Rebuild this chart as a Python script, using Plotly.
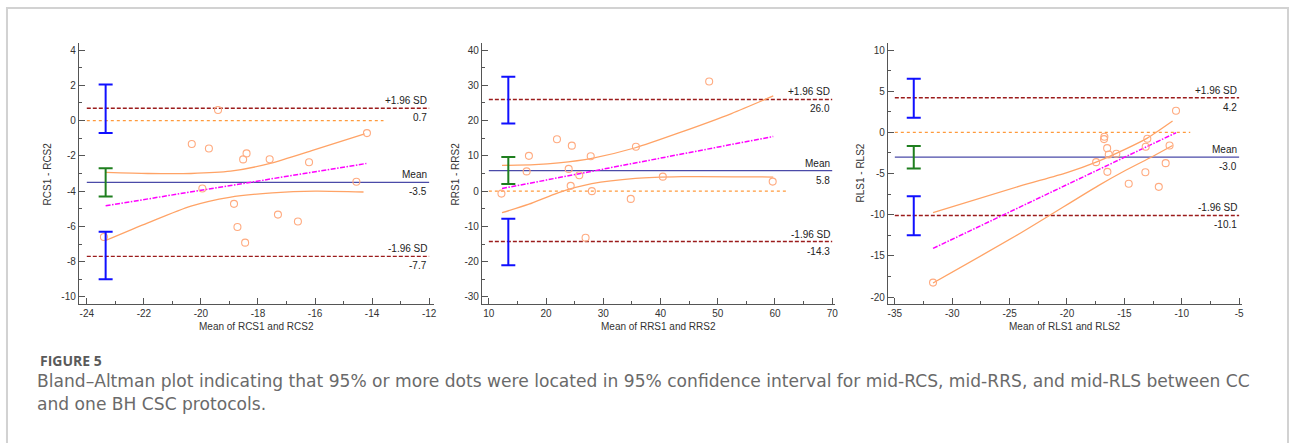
import plotly.graph_objects as go

W, H = 1294, 443

# ---------------- data ----------------
# Panel 1: RCS
rcs_x = [-23.4, -19.40, -20.32, -19.72, -18.40, -18.52, -17.59, -16.21, -14.18, -19.95, -14.55, -18.84, -18.72, -18.45, -17.30, -16.60]
rcs_y = [-6.6, 0.6, -1.33, -1.58, -1.86, -2.2, -2.19, -2.36, -0.71, -3.85, -3.47, -4.72, -6.03, -6.92, -5.33, -5.72]
rcs_reg_x = [-23.34, -14.2]
rcs_reg_y = [-4.83, -2.43]
rcs_ciu_x = [-23.34, -21.86, -20.35, -18.96, -17.57, -16.06, -14.26]
rcs_ciu_y = [-2.94, -3.0, -3.0, -2.87, -2.43, -1.68, -0.75]
rcs_cil_x = [-23.34, -21.86, -20.35, -19.0, -17.5, -16.0, -14.3]
rcs_cil_y = [-6.8, -5.8, -4.85, -4.35, -4.1, -4.0, -4.05]
rcs_stats = {"upper": 0.7, "mean": -3.5, "lower": -7.7}
rcs_ebar_x = -23.34
rcs_ebar = [(2.05, -0.7, "blue"), (-2.7, -4.3, "green"), (-6.3, -9.0, "blue")]

# Panel 2: RRS
rrs_x = [48.5, 21.9, 24.5, 17.0, 27.8, 35.7, 16.6, 23.95, 25.8, 24.3, 28.0, 12.2, 40.4, 59.6, 34.8, 26.9]
rrs_y = [31.1, 14.7, 12.9, 10.0, 9.9, 12.6, 5.6, 6.3, 4.5, 1.5, 0.0, -0.7, 4.1, 2.7, -2.2, -13.2]
rrs_reg_x = [12.3, 59.7]
rrs_reg_y = [0.74, 15.5]
rrs_ciu_x = [12.3, 18.0, 22.2, 28.0, 35.6, 43.7, 52.4, 59.7]
rrs_ciu_y = [7.3, 7.5, 8.0, 9.3, 12.3, 16.8, 22.0, 27.0]
rrs_cil_x = [12.3, 17.0, 22.2, 28.0, 35.6, 43.7, 59.7]
rrs_cil_y = [-6.1, -3.7, -0.4, 2.1, 3.6, 4.1, 4.0]
rrs_stats = {"upper": 26.0, "mean": 5.8, "lower": -14.3}
rrs_ebar_x = 13.4
rrs_ebar = [(32.4, 19.2, "blue"), (9.7, 2.0, "green"), (-7.8, -21.0, "blue")]

# Panel 3: RLS
rls_x = [-31.67, -10.5, -16.74, -16.77, -16.5, -16.36, -15.7, -17.46, -16.48, -13.0, -13.14, -11.06, -11.4, -13.17, -14.62, -12.0]
rls_y = [-18.25, 2.62, -0.54, -0.82, -1.92, -2.69, -2.6, -3.62, -4.8, -0.78, -1.76, -1.6, -3.74, -4.84, -6.25, -6.62]
rls_reg_x = [-31.67, -10.5]
rls_reg_y = [-14.1, -0.05]
rls_ciu_x = [-31.67, -24.13, -20.0, -17.46, -15.0, -13.0, -10.8]
rls_ciu_y = [-9.74, -6.54, -4.9, -3.62, -2.1, -0.7, 1.37]
rls_cil_x = [-31.67, -24.0, -17.3, -15.0, -12.5, -10.8]
rls_cil_y = [-18.3, -12.2, -6.5, -4.7, -2.9, -1.6]
rls_stats = {"upper": 4.2, "mean": -3.0, "lower": -10.1}
rls_ebar_x = -33.35
rls_ebar = [(6.5, 1.77, "blue"), (-1.67, -4.39, "green"), (-7.75, -12.5, "blue")]

# axes
x_ranges = [[-24.28, -11.83], [8.78, 70.5], [-35.6, -4.74]]
y_ranges = [[-10.4, 4.4], [-32.0, 42.0], [-20.85, 10.85]]
line_spans = [[-24, -12], [10, 70], [-35, -5]]
zero_spans = [[-24, -13.6], [10, 62.4], [-35, -9.26]]
x_ticks = [[-24, -22, -20, -18, -16, -14, -12], [10, 20, 30, 40, 50, 60, 70], [-35, -30, -25, -20, -15, -10, -5]]
y_ticks = [[-10, -8, -6, -4, -2, 0, 2, 4], [-30, -20, -10, 0, 10, 20, 30, 40], [-20, -15, -10, -5, 0, 5, 10]]
x_minor = [1, 5, 2.5]
y_minor = [1, 5, 2.5]
x_titles = ["Mean of RCS1 and RCS2", "Mean of RRS1 and RRS2", "Mean of RLS1 and RLS2"]
y_titles = ["RCS1 - RCS2", "RRS1 - RRS2", "RLS1 - RLS2"]
caption_head = "FIGURE 5"
caption_lines = ["Bland\u2013Altman plot indicating that 95% or more dots were located in 95% confidence interval for mid-RCS, mid-RRS, and mid-RLS between CC",
                 "and one BH CSC protocols."]

panels = [
    (rcs_x, rcs_y, rcs_reg_x, rcs_reg_y, rcs_ciu_x, rcs_ciu_y, rcs_cil_x, rcs_cil_y, rcs_stats, rcs_ebar_x, rcs_ebar),
    (rrs_x, rrs_y, rrs_reg_x, rrs_reg_y, rrs_ciu_x, rrs_ciu_y, rrs_cil_x, rrs_cil_y, rrs_stats, rrs_ebar_x, rrs_ebar),
    (rls_x, rls_y, rls_reg_x, rls_reg_y, rls_ciu_x, rls_ciu_y, rls_cil_x, rls_cil_y, rls_stats, rls_ebar_x, rls_ebar),
]

# ---------------- layout geometry (pixels) ----------------
x_dom_px = [(79, 435), (483, 837), (890, 1245)]
y_dom_px = (43, 304)
ytitle_px = [48, 457, 862]

C_SD = "#9b1c1c"
C_MEAN = "#4a4aa8"
C_ZERO = "#ff9a3c"
C_CI = "#ffa366"
C_PT = "#ffab80"
C_REG = "#ff00ff"
C_BLUE = "#1010ff"
C_GREEN = "#1f7f1f"
AX = "#555555"
TXT = "#333333"
FONT = "Liberation Sans, Arial, sans-serif"
FS = 10

fig = go.Figure()
layout = dict(
    width=W, height=H, margin=dict(l=0, r=0, t=0, b=0),
    paper_bgcolor="white", plot_bgcolor="white", showlegend=False,
    font=dict(family=FONT, size=FS, color=TXT),
)
annotations = []
shapes = []

for i, (px_, py_, rx, ry, ux, uy, lx, ly, st, ebx, ebars) in enumerate(panels):
    n = "" if i == 0 else str(i + 1)
    xa, ya = "x" + n, "y" + n
    fig.add_trace(go.Scatter(x=zero_spans[i], y=[0, 0], mode="lines", xaxis=xa, yaxis=ya,
                             line=dict(color=C_ZERO, width=1.3, dash="dot")))
    for key in ("upper", "lower"):
        fig.add_trace(go.Scatter(x=line_spans[i], y=[st[key]] * 2, mode="lines", xaxis=xa, yaxis=ya,
                                 line=dict(color=C_SD, width=1.4, dash="4px,2px")))
    fig.add_trace(go.Scatter(x=line_spans[i], y=[st["mean"]] * 2, mode="lines", xaxis=xa, yaxis=ya,
                             line=dict(color=C_MEAN, width=1.2)))
    fig.add_trace(go.Scatter(x=ux, y=uy, mode="lines", xaxis=xa, yaxis=ya,
                             line=dict(color=C_CI, width=1.3, shape="spline", smoothing=0.7)))
    fig.add_trace(go.Scatter(x=lx, y=ly, mode="lines", xaxis=xa, yaxis=ya,
                             line=dict(color=C_CI, width=1.3, shape="spline", smoothing=0.7)))
    fig.add_trace(go.Scatter(x=rx, y=ry, mode="lines", xaxis=xa, yaxis=ya,
                             line=dict(color=C_REG, width=1.5, dash="5px,1.5px,1.5px,1.5px")))
    fig.add_trace(go.Scatter(x=px_, y=py_, mode="markers", xaxis=xa, yaxis=ya,
                             marker=dict(symbol="circle-open", size=7, color=C_PT, line=dict(width=1.1, color=C_PT))))
    for hi, lo, col in ebars:
        c = C_BLUE if col == "blue" else C_GREEN
        mid = (hi + lo) / 2
        fig.add_trace(go.Scatter(x=[ebx], y=[mid], mode="markers", xaxis=xa, yaxis=ya,
                                 marker=dict(size=1, opacity=0),
                                 error_y=dict(type="data", symmetric=False, array=[hi - mid], arrayminus=[mid - lo],
                                              color=c, thickness=2, width=7)))
    xr = line_spans[i][1]
    for key, lab in (("upper", "+1.96 SD"), ("mean", "Mean"), ("lower", "-1.96 SD")):
        v = st[key]
        annotations.append(dict(x=xr, y=v, xref=xa, yref=ya, text=lab, showarrow=False,
                                xanchor="right", yanchor="bottom", yshift=0, font=dict(size=FS, color="#222")))
        annotations.append(dict(x=xr, y=v, xref=xa, yref=ya, text=f"{v:.1f}", showarrow=False,
                                xanchor="right", yanchor="top", yshift=-2, font=dict(size=FS, color="#222")))
    x0, x1 = x_dom_px[i]
    xd = [x0 / W, x1 / W]
    yd = [1 - y_dom_px[1] / H, 1 - y_dom_px[0] / H]
    common = dict(showline=True, linecolor=AX, linewidth=1, ticks="inside", ticklen=6, tickcolor=AX,
                  showgrid=False, zeroline=False, tickfont=dict(size=FS, color=TXT), mirror=False)
    layout["xaxis" + n] = dict(domain=xd, range=x_ranges[i], anchor=ya, tickmode="array",
                               tickvals=x_ticks[i], ticktext=[str(t) for t in x_ticks[i]],
                               minor=dict(ticks="inside", ticklen=3, tickcolor=AX, dtick=x_minor[i], tick0=0),
                               **common)
    layout["yaxis" + n] = dict(domain=yd, range=y_ranges[i], anchor=xa, tickmode="array",
                               tickvals=y_ticks[i], ticktext=[str(t) for t in y_ticks[i]],
                               minor=dict(ticks="inside", ticklen=3, tickcolor=AX, dtick=y_minor[i], tick0=0),
                               **common)
    annotations.append(dict(x=(xd[0] + xd[1]) / 2, y=1 - 326 / H, xref="paper", yref="paper",
                            text=x_titles[i], showarrow=False, xanchor="center", yanchor="middle",
                            font=dict(size=FS, color=TXT)))
    annotations.append(dict(x=ytitle_px[i] / W, y=(yd[0] + yd[1]) / 2, xref="paper", yref="paper",
                            text=y_titles[i], showarrow=False, textangle=-90, xanchor="center", yanchor="middle",
                            font=dict(size=FS, color=TXT)))

# caption
annotations.append(dict(x=38 / W, y=1 - 360 / H, xref="paper", yref="paper", text="<b>" + caption_head + "</b>",
                        showarrow=False, xanchor="left", yanchor="middle",
                        font=dict(family="Open Sans, sans-serif", size=14, color="#5a5a5a")))
for k, (line, ypx) in enumerate(zip(caption_lines, [381, 404])):
    annotations.append(dict(x=35 / W, y=1 - ypx / H, xref="paper", yref="paper", text=line,
                            showarrow=False, xanchor="left", yanchor="middle", align="left",
                            font=dict(family="DejaVu Sans, sans-serif", size=17.1, color="#6a6a6a")))

# frame
shapes.append(dict(type="rect", xref="paper", yref="paper", x0=7 / W, x1=1291 / W, y0=-0.2, y1=1 - 8 / H,
                   line=dict(color="#d2d2d2", width=2), layer="below"))

layout["annotations"] = annotations
layout["shapes"] = shapes
fig.update_layout(**layout)
fig.write_html("out.html", config={"displayModeBar": False},
               post_script="document.body.style.margin='0px';document.body.style.overflow='hidden';")
